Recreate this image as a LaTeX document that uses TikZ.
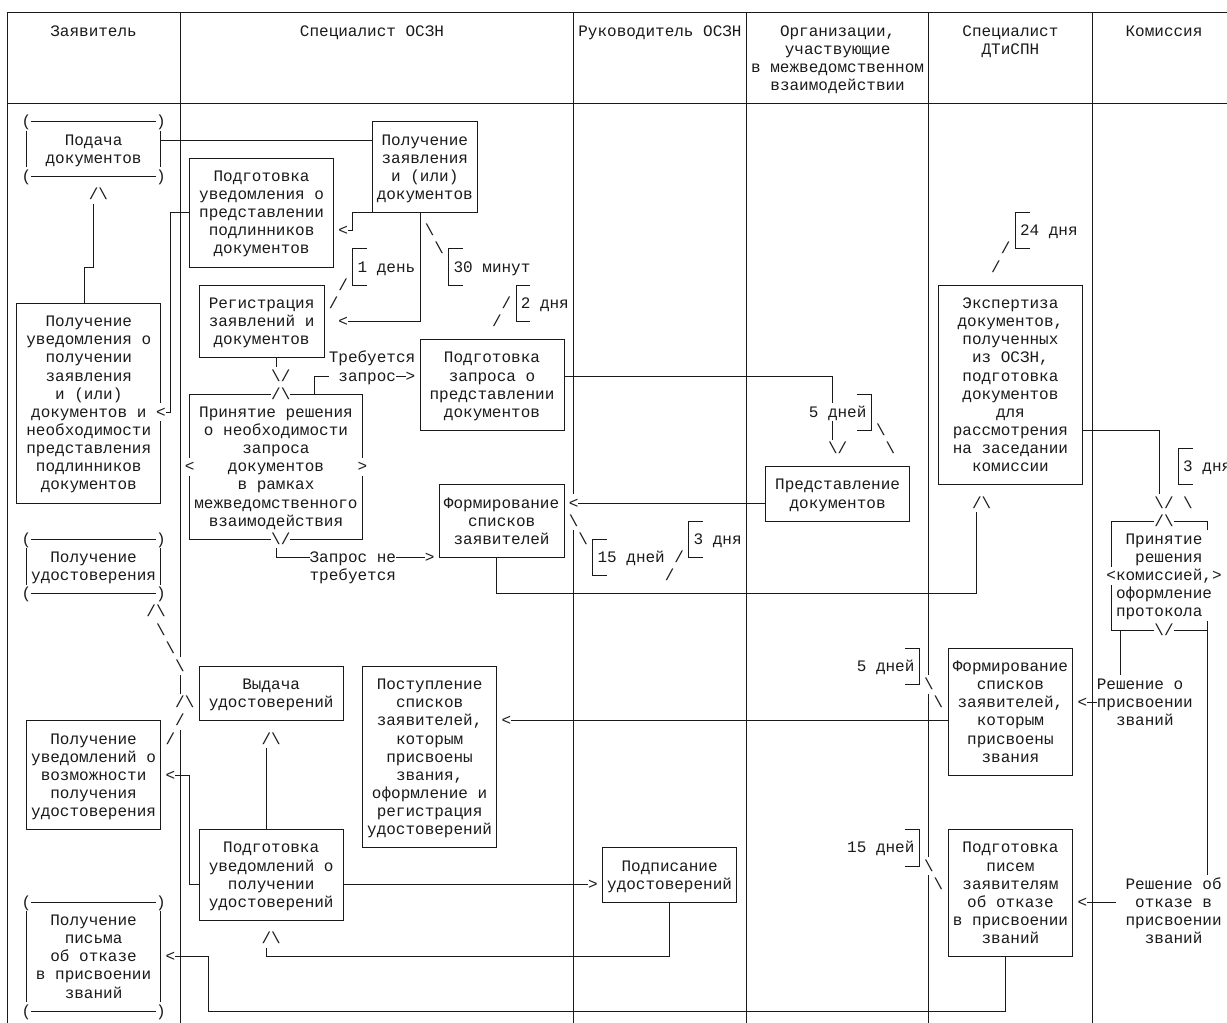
\documentclass[tikz,border=0pt]{standalone}
\usepackage{fontspec}
\newfontfamily\mono{Liberation Mono}[WordSpace={1,0,0}]
\usetikzlibrary{calc,fit}
\newcommand\bsl{\symbol{92}}
\definecolor{ink}{HTML}{1A1A1A}
\tikzset{
  ln/.style={line width=0.75pt, draw=ink},
  bx/.style={draw=ink, line width=0.75pt, inner sep=0pt, outer sep=0pt, rectangle, fit=#1},
  nb/.style={inner sep=0pt, outer sep=0pt, rectangle, fit=#1},
  tx/.style={font=\mono\fontsize{12}{13.6125}\selectfont, text=ink, inner sep=0pt, outer sep=0pt, align=center, anchor=base, yshift=-3.75pt},
  tl/.style={tx, anchor=base west, xshift=-3.6pt},
  gl/.style={tl, fill=white, text height=10.56pt, text depth=3.06pt},
}
\newcommand\gly[4]{\node[gl] (#1) at (c#2 |- r#3) {#4};}
\newcommand\lab[4]{\node[tl] (#1) at (c#2 |- r#3) {#4};}
\newcommand\brL[2]{\draw[ln] ($(c#1 |- r#2)+(14.4,-18.15)$) -- ($(c#1 |- r#2)+(0,-18.15)$) -- ($(c#1 |- r#2)+(0,18.15)$) -- ($(c#1 |- r#2)+(14.4,18.15)$);}
\newcommand\brR[2]{\draw[ln] ($(c#1 |- r#2)+(-14.4,-18.15)$) -- ($(c#1 |- r#2)+(0,-18.15)$) -- ($(c#1 |- r#2)+(0,18.15)$) -- ($(c#1 |- r#2)+(-14.4,18.15)$);}
\newcommand\mkterm[5]{%
  \node[nb={(c#2 |- r#4)(c#3 |- r#5)}] (#1) {};
  \draw[ln] ($(c#2 |- r#4)+(4.8,0)$) -- ($(c#3 |- r#4)+(-4.8,0)$);
  \draw[ln] ($(c#2 |- r#5)+(4.8,0)$) -- ($(c#3 |- r#5)+(-4.8,0)$);
  \draw[ln] ($(c#2 |- r#4)+(0,9.075)$) -- ($(c#2 |- r#5)+(0,-9.075)$);
  \draw[ln] ($(c#3 |- r#4)+(0,9.075)$) -- ($(c#3 |- r#5)+(0,-9.075)$);
  \node[tx] (#1-a) at (c#2 |- r#4) {(};
  \node[tx] (#1-b) at (c#3 |- r#4) {)};
  \node[tx] (#1-c) at (c#2 |- r#5) {(};
  \node[tx] (#1-d) at (c#3 |- r#5) {)};
}
\begin{document}
\begin{tikzpicture}[x=0.75pt,y=-0.75pt]
\useasboundingbox (0,0) rectangle (1227,1023);
\clip (0,0) rectangle (1227,1023);
\fill[white] (0,0) rectangle (1227,1023);
\foreach \n in {0,...,128} {\coordinate (c\n) at ({7.2+9.6*\n},0);}
\foreach \k in {0,...,57} {\coordinate (r\k) at (0,{13+18.15*\k});}

% ---------- table frame ----------
\draw[ln] (c0 |- r0) -- (c128 |- r0);
\draw[ln] (c0 |- r5) -- (c128 |- r5);
\foreach \n in {0,18,59,77,96,113} {\draw[ln] (c\n |- r0) -- (c\n |- r57);}

% ---------- header (multi-line nodes anchored at their last line) ----------
\node[tx] (h1) at (c9 |- r1) {Заявитель};
\node[tx] (h2) at (c38 |- r1) {Специалист ОСЗН};
\node[tx] (h3) at (c68 |- r1) {Руководитель ОСЗН};
\node[tx] (h4) at ($(c86 |- r4)+(4.8,0)$) {Организации,\\участвующие\\в межведомственном\\взаимодействии};
\node[tx] (h5) at ($(c104 |- r2)+(4.8,0)$) {Специалист\\ДТиСПН};
\node[tx] (h6) at ($(c120 |- r1)+(4.8,0)$) {Комиссия};

% ---------- boxes ----------
\mkterm{podacha}{2}{16}{6}{9}
\node[tx] (podacha-t) at (podacha.north |- r8) {Подача\\документов};
\mkterm{polUdost}{2}{16}{29}{32}
\node[tx] (polUdost-t) at (polUdost.north |- r31) {Получение\\удостоверения};
\mkterm{polPis}{2}{16}{49}{55}
\node[tx] (polPis-t) at (polPis.north |- r54) {Получение\\письма\\об отказе\\в присвоении\\званий};

\node[bx={(c38 |- r6)(c49 |- r11)}] (polzayav) {};
\node[tx] (polzayav-t) at (polzayav.north |- r10) {Получение\\заявления\\и (или)\\документов};
\node[bx={(c19 |- r8)(c34 |- r14)}] (podgUved) {};
\node[tx] (podgUved-t) at (podgUved.north |- r13) {Подготовка\\уведомления о\\представлении\\подлинников\\документов};
\node[bx={(c20 |- r15)(c33 |- r19)}] (registr) {};
\node[tx] (registr-t) at (registr.north |- r18) {Регистрация\\заявлений и\\документов};
\node[bx={(c1 |- r16)(c16 |- r27)}] (polUved1) {};
\node[tx] (polUved1-t) at (polUved1.north |- r26) {Получение\\уведомления о\\получении\\заявления\\и (или)\\документов и\\необходимости\\представления\\подлинников\\документов};
\node[bx={(c19 |- r21)(c37 |- r29)}] (reshenie) {};
\node[tx] (reshenie-t) at (reshenie.north |- r28) {Принятие решения\\о необходимости\\запроса\\документов\\в рамках\\межведомственного\\взаимодействия};
\node[bx={(c43 |- r18)(c58 |- r23)}] (podgZapr) {};
\node[tx] (podgZapr-t) at (podgZapr.north |- r22) {Подготовка\\запроса о\\представлении\\документов};
\node[bx={(c45 |- r26)(c58 |- r30)}] (formSp) {};
\node[tx] (formSp-t) at (formSp.north |- r29) {Формирование\\списков\\заявителей};
\node[bx={(c79 |- r25)(c94 |- r28)}] (predst) {};
\node[tx] (predst-t) at (predst.north |- r27) {Представление\\документов};
\node[bx={(c97 |- r15)(c112 |- r26)}] (ekspert) {};
\node[tx] (ekspert-t) at (ekspert.north |- r25) {Экспертиза\\документов,\\полученных\\из ОСЗН,\\подготовка\\документов\\для\\рассмотрения\\на заседании\\комиссии};
% commission decision box: its right side is hidden by over-long text lines
\node[nb={(c115 |- r28)(c125 |- r34)}] (komis) {};
\draw[ln] ($(komis.north east)+(0,9.075)$) -- (komis.north east) -- (komis.north west) -- (komis.south west) -- (komis.south east) -- ($(komis.south east)+(0,-9.075)$);
\node[bx={(c98 |- r35)(c111 |- r42)}] (formSp2) {};
\node[tx] (formSp2-t) at (formSp2.north |- r41) {Формирование\\списков\\заявителей,\\которым\\присвоены\\звания};
\node[bx={(c98 |- r45)(c111 |- r52)}] (podgPis) {};
\node[tx] (podgPis-t) at (podgPis.north |- r51) {Подготовка\\писем\\заявителям\\об отказе\\в присвоении\\званий};
\node[bx={(c20 |- r36)(c35 |- r39)}] (vydacha) {};
\node[tx] (vydacha-t) at (vydacha.north |- r38) {Выдача\\удостоверений};
\node[bx={(c37 |- r36)(c51 |- r46)}] (postupl) {};
\node[tx] (postupl-t) at (postupl.north |- r45) {Поступление\\списков\\заявителей,\\которым\\присвоены\\звания,\\оформление и\\регистрация\\удостоверений};
\node[bx={(c20 |- r45)(c35 |- r50)}] (podgUv2) {};
\node[tx] (podgUv2-t) at (podgUv2.north |- r49) {Подготовка\\уведомлений о\\получении\\удостоверений};
\node[bx={(c62 |- r46)(c76 |- r49)}] (podpis) {};
\node[tx] (podpis-t) at (podpis.north |- r48) {Подписание\\удостоверений};
\node[bx={(c2 |- r39)(c16 |- r45)}] (polUv2) {};
\node[tx] (polUv2-t) at (polUv2.north |- r44) {Получение\\уведомлений о\\возможности\\получения\\удостоверения};

% ---------- arrow glyphs (drawn over lines) ----------
\gly{gA}{9}{10}{/\bsl}
\gly{gB}{16}{22}{<}
\gly{gC}{35}{12}{<}
\gly{gD}{35}{17}{<}
\gly{gE}{28}{20}{\bsl/}
\gly{gF}{28}{21}{/\bsl}
\gly{gG}{42}{20}{>}
\gly{gH}{28}{29}{\bsl/}
\gly{gI}{44}{30}{>}
\gly{gJ}{86}{24}{\bsl/}
\gly{gK}{59}{27}{<}
\gly{gL}{101}{27}{/\bsl}
\gly{gM}{120}{27}{\bsl/}
\gly{gN}{120}{28}{/\bsl}
\gly{gO}{120}{34}{\bsl/}
\gly{gP}{112}{38}{<}
\gly{gQ}{112}{49}{<}
\gly{gR}{52}{39}{<}
\gly{gS}{17}{52}{<}
\gly{gT}{17}{42}{<}
\gly{gU}{61}{48}{>}
\gly{gV}{27}{51}{/\bsl}
\gly{gW}{27}{40}{/\bsl}
\gly{gX}{15}{33}{/\bsl}
\gly{gY1}{19}{25}{<}
\gly{gY2}{37}{25}{>}
% dashed pointers
\gly{d1}{44}{12}{\bsl}
\gly{d2}{45}{13}{\bsl}
\gly{d3}{35}{15}{/}
\gly{d4}{34}{16}{/}
\gly{d5}{52}{16}{/}
\gly{d6}{51}{17}{/}
\gly{d7}{91}{23}{\bsl}
\gly{d8}{92}{24}{\bsl}
\gly{d9}{59}{28}{\bsl}
\gly{d10}{60}{29}{\bsl}
\gly{d11}{70}{30}{/}
\gly{d12}{69}{31}{/}
\gly{d13}{104}{13}{/}
\gly{d14}{103}{14}{/}
\gly{d15}{123}{27}{\bsl}
\gly{d16}{96}{37}{\bsl}
\gly{d17}{97}{38}{\bsl}
\gly{d18}{96}{47}{\bsl}
\gly{d19}{97}{48}{\bsl}
\gly{d20}{16}{34}{\bsl}
\gly{d21}{17}{35}{\bsl}
\gly{d22}{18}{36}{\bsl}
\gly{d23}{18}{38}{/\bsl}
\gly{d24}{18}{39}{/}
\gly{d25}{17}{40}{/}

% ---------- connectors ----------
\draw[ln] (podacha.east |- r7) -- (polzayav.west |- r7);
\draw[ln] (gA.south -| c9) -- (c9 |- r14) -- (c8 |- r14) -- (polUved1.north -| c8);
\draw[ln] (podgUved.west |- r11) -- (c17 |- r11) -- (c17 |- r22) -- (gB.east);
\draw[ln] (polzayav.south west) -- (c36 |- r11) -- (c36 |- r12) -- (gC.east);
\draw[ln] (polzayav.south -| c43) -- (c43 |- r17) -- (gD.east);
\draw[ln] (registr.south -| c28) -- (gE.north -| c28);
\draw[ln] (reshenie.north -| c32) -- (c32 |- r20) -- ($(c33 |- r20)+(4.8,0)$);
\draw[ln] ($(c41 |- r20)+(-4.8,0)$) -- (gG.west);
\draw[ln] (gH.south -| c28) -- (c28 |- r30) -- ($(c31 |- r30)+(4.8,0)$);
\draw[ln] ($(c41 |- r30)+(-4.8,0)$) -- (gI.west);
\draw[ln] (podgZapr.east |- r20) -- (c86 |- r20) -- (gJ.north -| c86);
\draw[ln] (predst.west |- r27) -- (gK.east);
\draw[ln] (formSp.south -| c51) -- (c51 |- r32) -- (c101 |- r32) -- (gL.south -| c101);
\draw[ln] (ekspert.east |- r23) -- (c120 |- r23) -- (gM.north -| c120);
\draw[ln] (komis.south -| c116) -- ($(c116 |- r36)+(0,9.075)$);
\draw[ln] (gP.east) -- ($(c113 |- r38)+(4.8,0)$);
\draw[ln] (komis.south -| c125) -- ($(c125 |- r47)+(0,9.075)$);
\draw[ln] (gQ.east) -- ($(c115 |- r49)+(4.8,0)$);
\draw[ln] (formSp2.west |- r39) -- (gR.east);
\draw[ln] (podgPis.south -| c104) -- (c104 |- r55) -- (c21 |- r55) -- (c21 |- r52) -- (gS.east);
\draw[ln] (podgUv2.west |- r48) -- (c19 |- r48) -- (c19 |- r42) -- (gT.east);
\draw[ln] (podgUv2.east |- r48) -- (gU.west);
\draw[ln] (podpis.south -| c69) -- (c69 |- r52) -- (c27 |- r52) -- (gV.south -| c27);
\draw[ln] (podgUv2.north -| c27) -- (gW.south -| c27);

% ---------- labels ----------
\lab{l1}{37}{14}{1 день}
\lab{l2}{47}{14}{30 минут}
\lab{l3}{54}{16}{2 дня}
\lab{l4}{34}{19}{Требуется}
\lab{l5}{35}{20}{запрос}
\lab{l6}{32}{30}{Запрос не}
\lab{l7}{32}{31}{требуется}
\node[gl] (l8) at (c84 |- r22) {5 дней};
\lab{l9}{62}{30}{15 дней}
\lab{l10}{72}{29}{3 дня}
\lab{l11}{106}{12}{24 дня}
\lab{l12}{123}{25}{3 дня}
\lab{l13}{114}{37}{Решение о}
\lab{l14}{114}{38}{присвоении}
\lab{l15}{116}{39}{званий}
\lab{l16}{117}{48}{Решение об}
\lab{l17}{118}{49}{отказе в}
\lab{l18}{117}{50}{присвоении}
\lab{l19}{119}{51}{званий}
\lab{l20}{89}{36}{5 дней}
\lab{l21}{88}{46}{15 дней}
\brL{36}{14}
\brL{46}{14}
\brL{53}{16}
\brR{90}{22}
\brL{61}{30}
\brL{71}{29}
\brL{105}{12}
\brL{122}{25}
\brR{95}{36}
\brR{95}{46}

% commission decision text
\lab{k1}{117}{29}{Принятие}
\lab{k2}{118}{30}{решения}
\gly{k3}{115}{31}{<комиссией,>}
\lab{k4}{116}{32}{оформление}
\lab{k5}{116}{33}{протокола}
\end{tikzpicture}
\end{document}
